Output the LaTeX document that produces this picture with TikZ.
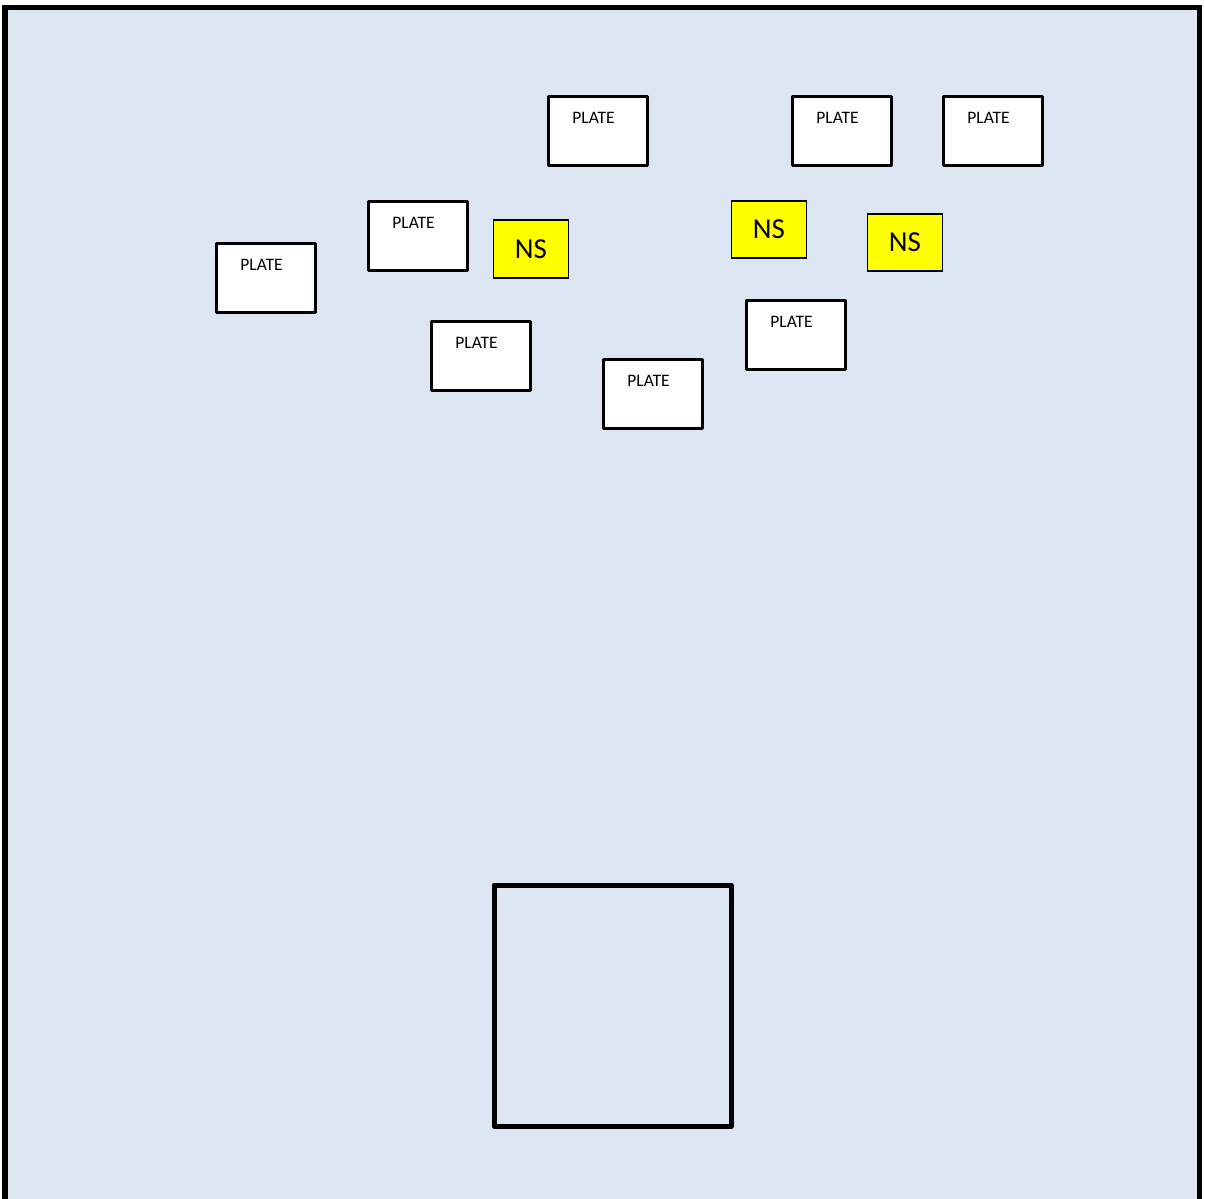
\documentclass[tikz,border=0pt]{standalone}
\usepackage{fontspec}
\setmainfont{Carlito}
\definecolor{bgblue}{HTML}{DCE6F2}
\definecolor{nsyellow}{HTML}{FFFF00}
\tikzset{
  frame/.style={draw=black, line width=5.2pt, fill=bgblue},
  plate/.style={draw=black, line width=2.9pt, fill=white, line join=round,
    minimum width=99.5pt, minimum height=69.5pt, inner sep=0pt,
    label={[anchor=center, xshift=-4.5pt, yshift=-23pt, font=\fontsize{17.5}{20}\selectfont]north:PLATE}},
  nsbox/.style={draw=black, line width=1.8pt, fill=nsyellow,
    minimum width=75pt, minimum height=57.5pt, inner sep=0pt,
    font=\fontsize{29}{33}\selectfont},
  bigsq/.style={draw=black, line width=5pt, line join=round}
}
\begin{document}
\begin{tikzpicture}[x=1pt,y=-1pt]
\clip (0,0) rectangle (1205,1199);
\fill[white] (0,0) rectangle (1205,1199);
\draw[frame] (5,7.5) rectangle (1199.3,1215);
% plates
\node[plate] (p1) at (598,131) {};
\node[plate] (p2) at (842,131) {};
\node[plate] (p3) at (993,131) {};
\node[plate] (p4) at (418,236) {};
\node[plate] (p5) at (266,278) {};
\node[plate] (p6) at (481,356) {};
\node[plate] (p7) at (653,394) {};
\node[plate] (p8) at (796,335) {};
% NS boxes
\node[nsbox] (n1) at (531,249) {NS};
\node[nsbox] (n2) at (769,229.5) {NS};
\node[nsbox] (n3) at (905,242.5) {NS};
% big square
\node[bigsq, minimum width=237pt, minimum height=241pt, inner sep=0pt] (sq) at (612.5,1005.5) {};
\end{tikzpicture}
\end{document}
